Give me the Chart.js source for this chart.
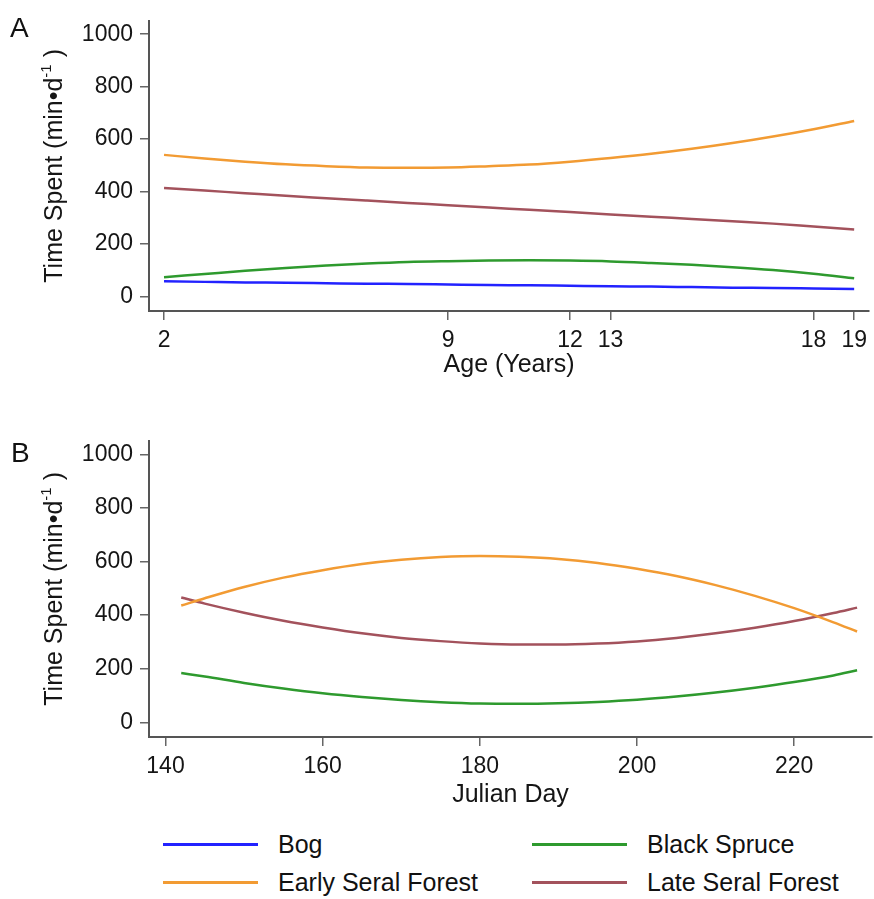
<!DOCTYPE html>
<html>
<head>
<meta charset="utf-8">
<script src="https://cdn.jsdelivr.net/npm/chart.js@4.4.1/dist/chart.umd.min.js"></script>
<style>
    body { margin: 0; background: #fff; font-family: "Liberation Sans", Arial, sans-serif; }
    #page { position: relative; width: 874px; height: 899px; overflow: hidden; }
    canvas { position: absolute; left: 0; }
    .panel { position: absolute; font-size: 28px; line-height: 28px; color: #111; }
    .legend-item { position: absolute; height: 25px; font-size: 25px; line-height: 25px; color: #111; white-space: nowrap; }
    .legend-item span { position: absolute; left: 0; top: 11px; width: 95px; height: 3px; }
    .legend-item b { position: absolute; left: 115px; top: 0; font-weight: normal; }
</style>
</head>
<body>
<div id="page">
    <canvas id="chartA" width="874" height="390" style="top:0"></canvas>
    <canvas id="chartB" width="874" height="400" style="top:420px"></canvas>
    <div class="panel" style="left:10px; top:14px">A</div>
    <div class="panel" style="left:11px; top:439px">B</div>
    <div id="legend"></div>
</div>
<script>
// Panel A: age in years
const ageYears = [2, 3, 4, 5, 6, 7, 8, 9, 10, 11, 12, 13, 14, 15, 16, 17, 18, 19];
const ageBog = [58, 56, 54, 53, 51, 49, 48, 46, 44, 43, 41, 39, 38, 36, 34, 33, 31, 29];
const ageBlackSpruce = [74, 86, 98, 109, 118, 126, 132, 135, 137, 138, 137, 134, 128, 121, 112, 101, 87, 70];
const ageEarlySeral = [540, 526, 514, 504, 497, 492, 491, 492, 497, 503, 514, 528, 544, 563, 585, 610, 638, 669];
const ageLateSeral = [414, 404, 394, 384, 375, 366, 357, 348, 339, 331, 322, 313, 304, 296, 287, 278, 267, 256];
const ageTicks = [2, 9, 12, 13, 18, 19];

// Panel B: julian day
const julianDays = [142, 145, 150, 155, 160, 165, 170, 175, 180, 185, 190, 195, 200, 205, 210, 215, 220, 225, 228];
const dayBlackSpruce = [184, 171, 147, 126, 108, 94, 83, 75, 70, 69, 71, 76, 84, 96, 111, 129, 150, 175, 194];
const dayEarlySeral = [436, 463, 505, 540, 568, 591, 607, 617, 621, 618, 610, 595, 573, 546, 512, 472, 426, 373, 339];
const dayLateSeral = [466, 443, 409, 379, 354, 332, 315, 303, 294, 290, 290, 294, 302, 315, 332, 353, 378, 408, 428];
const dayTicks = [140, 160, 180, 200, 220];

const timeTicks = [0, 200, 400, 600, 800, 1000];

const colors = {
    bog: '#2222ff',
    spruce: '#2e9a2e',
    early: '#f29b33',
    late: '#a3525c'
};
const legendItems = [
    { label: 'Bog', color: colors.bog },
    { label: 'Black Spruce', color: colors.spruce },
    { label: 'Early Seral Forest', color: colors.early },
    { label: 'Late Seral Forest', color: colors.late }
];

const fontFamily = '"Liberation Sans", Arial, sans-serif';
const axisColor = '#555';
const textColor = '#151515';

function toPoints(xs, ys) {
    return xs.map((x, i) => ({ x: x, y: ys[i] }));
}

function lineSet(label, xs, ys, color) {
    return {
        label: label,
        data: toPoints(xs, ys),
        borderColor: color,
        backgroundColor: color,
        borderWidth: 2.5,
        pointRadius: 0,
        cubicInterpolationMode: 'monotone',
        fill: false
    };
}

// titre de l'axe y avec exposant, dessiné en rotation
const yTitlePlugin = {
    id: 'yTitle',
    afterDraw(chart) {
        const ctx = chart.ctx;
        const area = chart.chartArea;
        const cy = (area.top + area.bottom) / 2;
        const big = '25px ' + fontFamily;
        const small = '15px ' + fontFamily;
        const parts = [
            { t: 'Time Spent (min\u2022d', f: big, dy: 0 },
            { t: '-1', f: small, dy: -11 },
            { t: ' )', f: big, dy: 0 }
        ];
        ctx.save();
        let total = 0;
        parts.forEach(p => { ctx.font = p.f; p.w = ctx.measureText(p.t).width; total += p.w; });
        ctx.translate(62, cy);
        ctx.rotate(-Math.PI / 2);
        ctx.fillStyle = textColor;
        ctx.textBaseline = 'alphabetic';
        let x = -total / 2;
        parts.forEach(p => {
            ctx.font = p.f;
            ctx.fillText(p.t, x, p.dy);
            x += p.w;
        });
        ctx.restore();
    }
};

function makeChart(id, datasets, xMin, xMax, xTicks, xTitle, padTop, xHeight, titlePad) {
    return new Chart(document.getElementById(id), {
        type: 'line',
        data: { datasets: datasets },
        options: {
            responsive: false,
            animation: false,
            devicePixelRatio: 1,
            layout: { padding: { top: padTop, right: 2, left: 0, bottom: 0 } },
            plugins: { legend: { display: false }, tooltip: { enabled: false } },
            scales: {
                x: {
                    type: 'linear',
                    min: xMin,
                    max: xMax,
                    afterBuildTicks: scale => { scale.ticks = xTicks.map(v => ({ value: v })); },
                    afterFit: scale => { scale.height = xHeight; },
                    grid: { drawOnChartArea: false, drawTicks: true, tickLength: 9, color: '#666', lineWidth: 1.5 },
                    border: { display: true, color: axisColor, width: 2 },
                    ticks: {
                        padding: 7,
                        color: textColor,
                        maxRotation: 0,
                        autoSkip: false,
                        callback: v => String(v),
                        font: { family: fontFamily, size: 23 }
                    },
                    title: {
                        display: true,
                        text: xTitle,
                        color: textColor,
                        font: { family: fontFamily, size: 25 },
                        padding: { top: 0, bottom: titlePad }
                    }
                },
                y: {
                    type: 'linear',
                    min: -55,
                    max: 1051,
                    afterBuildTicks: scale => { scale.ticks = timeTicks.map(v => ({ value: v })); },
                    afterFit: scale => { scale.width = 149; },
                    grid: { drawOnChartArea: false, drawTicks: true, tickLength: 9, color: '#666', lineWidth: 1.5 },
                    border: { display: true, color: axisColor, width: 2 },
                    ticks: {
                        padding: 7,
                        color: textColor,
                        callback: v => String(v),
                        font: { family: fontFamily, size: 23 }
                    }
                }
            }
        },
        plugins: [yTitlePlugin]
    });
}

makeChart('chartA', [
    lineSet('Bog', ageYears, ageBog, colors.bog),
    lineSet('Black Spruce', ageYears, ageBlackSpruce, colors.spruce),
    lineSet('Early Seral Forest', ageYears, ageEarlySeral, colors.early),
    lineSet('Late Seral Forest', ageYears, ageLateSeral, colors.late)
], 1.63, 19.37, ageTicks, 'Age (Years)', 10, 79, 10);

makeChart('chartB', [
    lineSet('Black Spruce', julianDays, dayBlackSpruce, colors.spruce),
    lineSet('Early Seral Forest', julianDays, dayEarlySeral, colors.early),
    lineSet('Late Seral Forest', julianDays, dayLateSeral, colors.late)
], 137.9, 229.9, dayTicks, 'Julian Day', 15, 83, 10);

// legend, two columns
const legend = document.getElementById('legend');
legendItems.forEach((item, i) => {
    const div = document.createElement('div');
    div.className = 'legend-item';
    div.style.left = (i % 2 === 0 ? 163 : 532) + 'px';
    div.style.top = (i < 2 ? 832 : 870) + 'px';
    div.innerHTML = `<span style="background:${item.color}"></span><b>${item.label}</b>`;
    legend.appendChild(div);
});
</script>
</body>
</html>
